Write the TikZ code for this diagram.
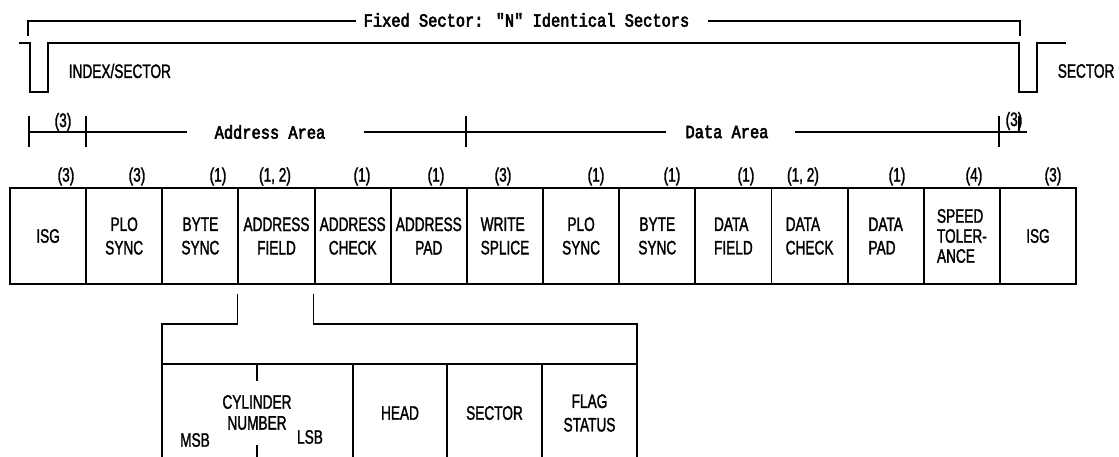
\documentclass[tikz,border=0pt]{standalone}
\usepackage{fontspec}
\setmainfont{Liberation Sans}[FakeStretch=0.7,FakeBold=1.5]
\newfontfamily\monolbl{Liberation Mono}[FakeStretch=0.83,FakeBold=3]
\newcommand\boxfont{\fontsize{19.5}{23.5}\selectfont}
\newcommand\areafont{\monolbl\fontsize{18.5}{22}\selectfont}
\begin{document}
\begin{tikzpicture}[x=1pt,y=-1pt,line width=1.6pt,
  cell/.style={draw,line width=1.9pt,minimum width=76.15pt,minimum height=96pt,inner sep=0pt,align=center,font=\boxfont},
  lcell/.style={cell,align=left},
  sub/.style={inner sep=0pt,align=center,font=\boxfont},
  size/.style={inner sep=0pt,font=\boxfont},
  area/.style={inner sep=0pt,font=\areafont},
  sig/.style={inner sep=0pt,anchor=west,font=\boxfont}]
\useasboundingbox (0,0) rectangle (1119,457);
% top: fixed sector span
\node[area] (fs) at (526.5,20) {Fixed Sector: "N" Identical Sectors};
\coordinate (fsl) at (28,36);
\coordinate (fsr) at (1020,36);
\draw (fsl) -- (fsl |- 0,21) -- ([xshift=-7pt]fs.west |- 0,21);
\draw ([xshift=18pt]fs.east |- 0,21) -- (fsr |- 0,21) -- (fsr);
% signal waveform
\draw (19,43) -- (30,43) -- (30,92) -- (48,92) -- (48,43) -- (1019,43) -- (1019,92) -- (1037,92) -- (1037,43) -- (1066,43);
\node[sig] (idx) at (68,71) {INDEX/SECTOR};
\node[sig] (sec) at (1057,71) {SECTOR};
% area dimension line
\node[area] (aa) at (270,132) {Address Area};
\node[area] (da) at (727,132) {Data Area};
\node[size] (d1) at (63,122) {(3)};
\node[size] (d2) at (1014,121) {(3)};
\coordinate (t0) at (29,132);
\coordinate (t1) at (86,132);
\coordinate (t2) at (466,132);
\coordinate (t3) at (999,132);
\coordinate (t4) at (1019,132);
\draw (t0) -- (t1) -- ([xshift=-27pt]aa.west);
\draw ([xshift=38pt]aa.east) -- (t2) -- ([xshift=-19pt]da.west);
\draw ([xshift=26pt]da.east) -- (t3) -- (1027,132);
\foreach \c in {t0,t1,t2,t3} \draw ([yshift=-15pt]\c) -- ([yshift=16pt]\c);
\draw (t4) -- ([yshift=16pt]t4);
% main row of fields
\node[cell] (b1) at (48.1,236) {ISG};
\node[cell] (b2) at (124.2,236) {PLO\\SYNC};
\node[cell] (b3) at (200.4,236) {BYTE\\SYNC};
\node[cell] (b4) at (276.5,236) {ADDRESS\\FIELD};
\node[cell] (b5) at (352.7,236) {ADDRESS\\CHECK};
\node[cell] (b6) at (428.8,236) {ADDRESS\\PAD};
\node[lcell] (b7) at (505.0,236) {WRITE\\SPLICE};
\node[cell] (b8) at (581.1,236) {PLO\\SYNC};
\node[cell] (b9) at (657.3,236) {BYTE\\SYNC};
\node[lcell] (b10) at (733.4,236) {DATA\\FIELD};
\node[lcell] (b11) at (809.6,236) {DATA\\CHECK};
\node[lcell] (b12) at (885.7,236) {DATA\\PAD};
\node[lcell,font=\fontsize{19.5}{20}\selectfont] (b13) at (961.9,236) {SPEED\\TOLER-\\ANCE};
\node[cell] (b14) at (1038.0,236) {ISG};
% byte counts
\node[size] (s1) at (66,176.5) {(3)};
\node[size] (s2) at (137,176.5) {(3)};
\node[size] (s3) at (218,176.5) {(1)};
\node[size] (s4) at (275,176.5) {(1, 2)};
\node[size] (s5) at (362,176.5) {(1)};
\node[size] (s6) at (436,176.5) {(1)};
\node[size] (s7) at (503,176.5) {(3)};
\node[size] (s8) at (596,176.5) {(1)};
\node[size] (s9) at (672,176.5) {(1)};
\node[size] (s10) at (746,176.5) {(1)};
\node[size] (s11) at (803,176.5) {(1, 2)};
\node[size] (s12) at (897,176.5) {(1)};
\node[size] (s13) at (974,176.5) {(4)};
\node[size] (s14) at (1053,176.5) {(3)};
% address field expansion
\coordinate (xl) at (162,364);
\coordinate (x1) at (353,364);
\coordinate (x2) at (447,364);
\coordinate (x3) at (542,364);
\coordinate (xr) at (637,364);
\draw (b4.south west) ++(0,9) -- ++(0,30) -| ([yshift=-7pt]xl);
\draw (b5.south west) ++(0,9) -- ++(0,30) -| ([yshift=-7pt]xr);
\draw (xl |- 0,457) -- (xl) -- (xr) -- (xr |- 0,457);
\foreach \c in {x1,x2,x3} \draw (\c) -- (\c |- 0,457);
\draw (257,364) -- (257,381);
\draw (257,445) -- (257,457);
\node[sub] (cyl) at (257,402) {CYLINDER};
\node[sub] (num) at (257,423) {NUMBER};
\node[sub] (msb) at (195,440) {MSB};
\node[sub] (lsb) at (310,437) {LSB};
\node[sub] (head) at (400,413) {HEAD};
\node[sub] (sect) at (494.5,413) {SECTOR};
\node[sub] (flag) at (589.5,413) {FLAG\\STATUS};
\end{tikzpicture}
\end{document}
